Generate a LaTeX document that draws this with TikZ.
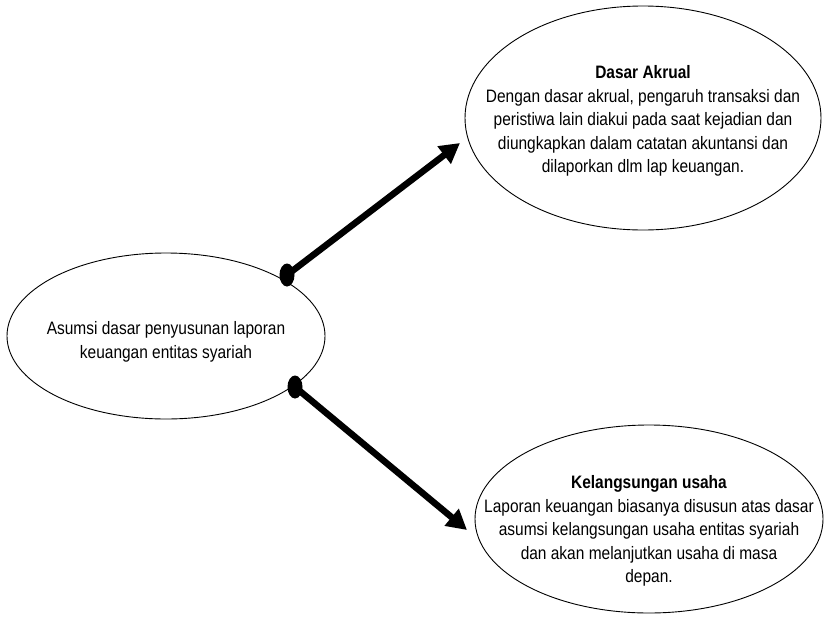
\documentclass[tikz,border=0pt]{standalone}
\usepackage{fontspec}
\setmainfont{Liberation Sans}
\newfontfamily\narrowsans[FakeStretch=0.86]{Liberation Sans}
\usetikzlibrary{shapes.geometric,arrows.meta}
\begin{document}
\begin{tikzpicture}[x=1pt,y=-1pt,
  bubble/.style={draw=black, line width=0.9pt, ellipse, inner sep=0pt},
  bubbletext/.style={align=center, inner sep=0pt,
    font=\narrowsans\fontsize{18}{23.5}\selectfont},
  knob/.style={ellipse, fill=black, inner sep=0pt,
    minimum width=15pt, minimum height=23pt},
  link/.style={line width=6.5pt, -{Triangle[length=20pt,width=21pt]}}]
\useasboundingbox (0,0) rectangle (824,643);

% the three ellipses
\node[bubble, minimum width=318pt, minimum height=166pt] (root) at (166,336) {};
\node[bubble, minimum width=356pt, minimum height=224pt] (accrual) at (643,118) {};
\node[bubble, minimum width=348pt, minimum height=188pt] (going) at (649,519) {};

% their texts
\node[bubbletext] (roottxt) at (166,342)
  {Asumsi dasar penyusunan laporan\\keuangan entitas syariah};
\node[bubbletext] (accrualtxt) at (643,121)
  {\textbf{Dasar Akrual}\\
   Dengan dasar akrual, pengaruh transaksi dan\\
   peristiwa lain diakui pada saat kejadian dan\\
   diungkapkan dalam catatan akuntansi dan\\
   dilaporkan dlm lap keuangan.};
\node[bubbletext] (goingtxt) at (649,531)
  {\textbf{Kelangsungan usaha}\\
   Laporan keuangan biasanya disusun atas dasar\\
   asumsi kelangsungan usaha entitas syariah\\
   dan akan melanjutkan usaha di masa\\
   depan.};

% connectors: round knob on the root ellipse, arrow towards each branch
\node[knob] (knobA) at (287,275) {};
\node[knob] (knobB) at (295,387) {};
\coordinate (tipA) at (460,143);
\coordinate (tipB) at (467,530);
\draw[link] (knobA.center) -- (tipA);
\draw[link] (knobB.center) -- (tipB);
\end{tikzpicture}
\end{document}
